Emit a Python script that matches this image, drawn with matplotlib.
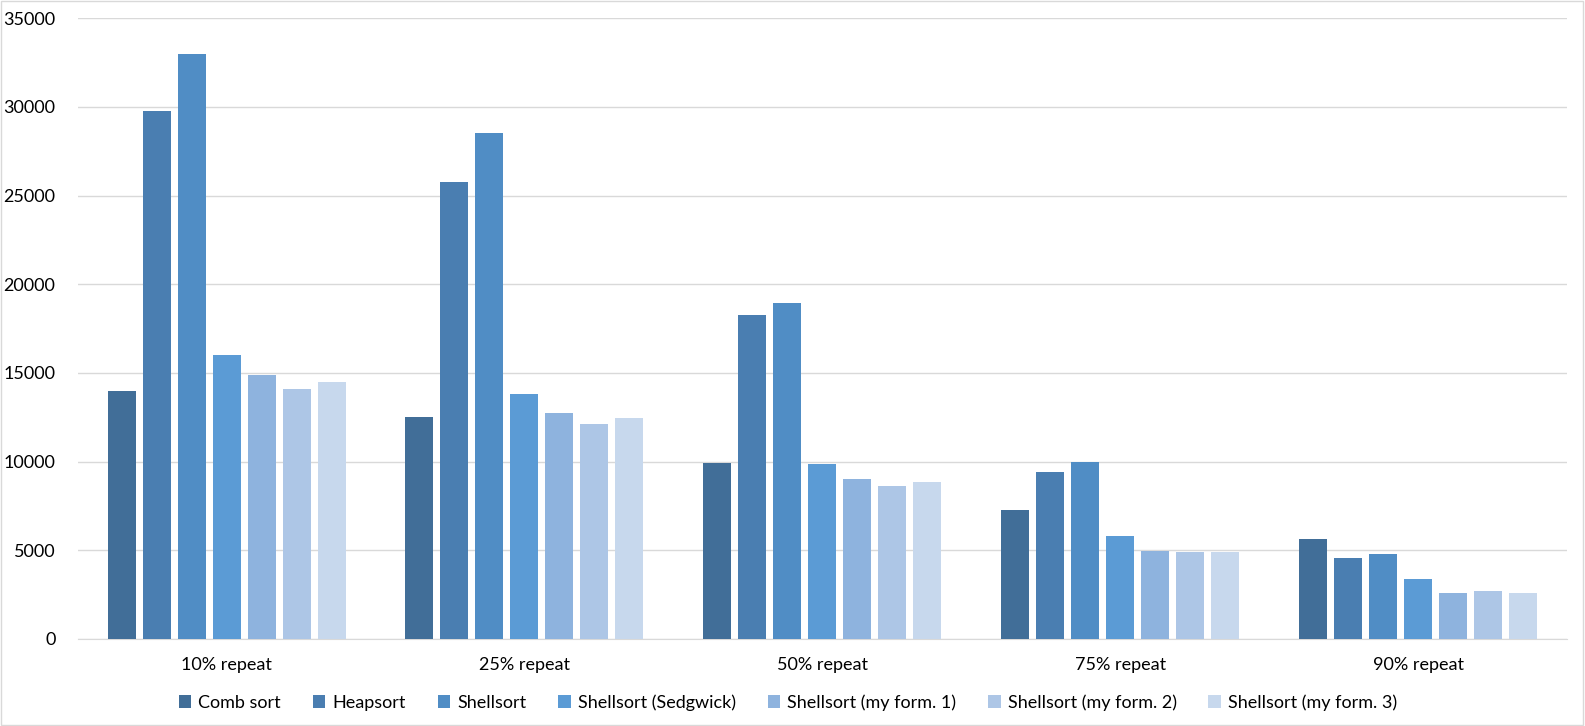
import numpy as np
import matplotlib.pyplot as plt
from matplotlib.patches import Rectangle

# Data
categories = ["10% repeat", "25% repeat", "50% repeat", "75% repeat", "90% repeat"]
series_names = ["Comb sort", "Heapsort", "Shellsort", "Shellsort (Sedgwick)",
                "Shellsort (my form. 1)", "Shellsort (my form. 2)", "Shellsort (my form. 3)"]
comb_sort = [14000, 12500, 9900, 7250, 5650]
heapsort = [29750, 25750, 18250, 9400, 4550]
shellsort = [33000, 28500, 18950, 10000, 4800]
shellsort_sedgwick = [16000, 13800, 9850, 5800, 3400]
shellsort_form1 = [14900, 12750, 9000, 4950, 2600]
shellsort_form2 = [14100, 12100, 8600, 4900, 2700]
shellsort_form3 = [14500, 12450, 8850, 4900, 2600]
all_series = [comb_sort, heapsort, shellsort, shellsort_sedgwick,
              shellsort_form1, shellsort_form2, shellsort_form3]
colors = ["#416E98", "#4A7EB1", "#508DC5", "#5B9BD5", "#8EB3DE", "#ADC6E6", "#C7D8ED"]

plt.rcParams['font.family'] = ['Lato', 'DejaVu Sans']

fig = plt.figure(figsize=(15.85, 7.26), dpi=100)
ax = fig.add_axes([0.049, 0.120, 0.9396, 0.855])

x = np.arange(len(categories))
width = 0.094
step = 0.1175
for i, (name, vals) in enumerate(zip(series_names, all_series)):
    ax.bar(x + (i - 3) * step, vals, width, color=colors[i], label=name, zorder=3)

ax.set_xlim(-0.5, len(categories) - 0.5)
ax.set_ylim(0, 35000)
ax.set_yticks(range(0, 35001, 5000))
ax.set_xticks(x)
ax.set_xticklabels(categories)
ax.grid(axis='y', color='#D9D9D9', linewidth=1, zorder=0)
for s in ['top', 'right', 'left']:
    ax.spines[s].set_visible(False)
ax.spines['bottom'].set_color('#D9D9D9')
ax.tick_params(axis='both', length=0, labelsize=13, colors='#000000')
ax.tick_params(axis='y', pad=16)
ax.tick_params(axis='x', pad=13)

ax.legend(loc='upper center', bbox_to_anchor=(0.477, -0.063), ncol=7, frameon=False,
          fontsize=13, handlelength=0.7, handleheight=0.7, handletextpad=0.4,
          columnspacing=1.75)

# light frame around the whole chart
fig.patches.append(Rectangle((0.0005, 0.001), 0.998, 0.998, transform=fig.transFigure,
                             fill=False, edgecolor='#D9D9D9', linewidth=1))

plt.savefig("out.png", dpi=100)
